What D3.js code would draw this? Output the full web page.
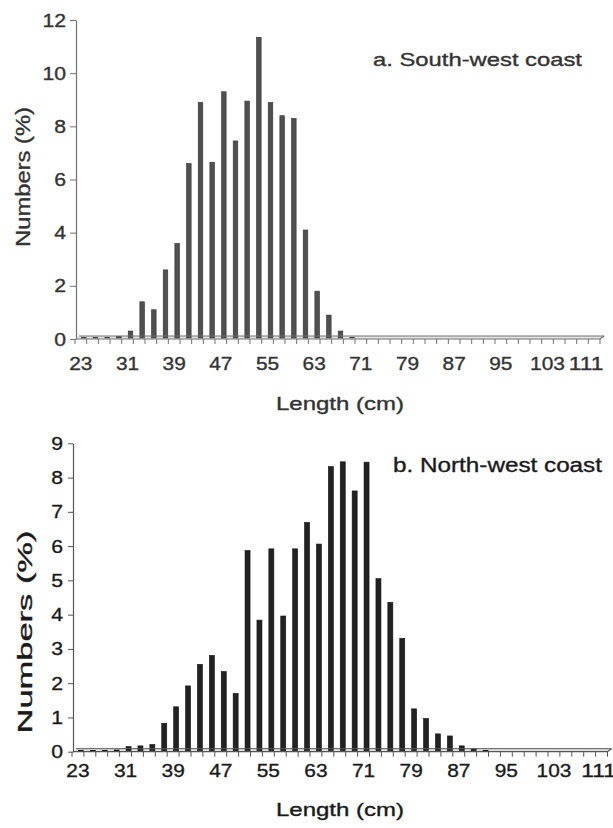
<!DOCTYPE html>
<html>
<head>
<meta charset="utf-8">
<script src="https://cdn.jsdelivr.net/npm/d3@7"></script>
<style>
    body { margin: 0; background: #fff; }
    svg { display: block; }
    text { font-family: "Liberation Sans", Arial, sans-serif; stroke-width: 0.35px; }
</style>
</head>
<body>
<svg id="chart" width="613" height="828"></svg>
<script>
// Length classes (cm)
var lengths = [23, 25, 27, 29, 31, 33, 35, 37, 39, 41, 43, 45, 47, 49, 51, 53, 55, 57, 59, 61, 63, 65, 67,
    69, 71, 73, 75, 77, 79, 81, 83, 85, 87, 89, 91, 93, 95, 97, 99, 101, 103, 105, 107, 109, 111];
// Numbers (%) per length class
var southWest = [0.05, 0.05, 0.05, 0.1, 0.3, 1.4, 1.1, 2.6, 3.6, 6.6, 8.9, 6.65, 9.3, 7.45, 8.95, 11.35, 8.9,
    8.4, 8.3, 4.1, 1.8, 0.9, 0.3, 0.05, 0, 0, 0, 0, 0, 0, 0, 0, 0, 0, 0, 0, 0, 0, 0, 0, 0, 0, 0, 0, 0];
var northWest = [0.04, 0.04, 0.04, 0.05, 0.15, 0.17, 0.21, 0.83, 1.31, 1.92, 2.55, 2.81, 2.34, 1.7, 5.87, 3.84,
    5.92, 3.96, 5.92, 6.69, 6.06, 8.32, 8.46, 7.61, 8.45, 5.05, 4.36, 3.31, 1.25, 0.97, 0.52, 0.46, 0.17, 0.08,
    0.04, 0, 0, 0, 0, 0, 0, 0, 0, 0, 0];
var xTickLabels = [23, 31, 39, 47, 55, 63, 71, 79, 87, 95, 103, 111];
var yTicksA = [0, 2, 4, 6, 8, 10, 12];
var yTicksB = [0, 1, 2, 3, 4, 5, 6, 7, 8, 9];

var svg = d3.select("#chart");

function drawPanel(opt) {
    var depth = 3;
    var x = d3.scaleBand()
        .domain(lengths)
        .range([opt.left, opt.right])
        .padding(0);
    var y = d3.scaleLinear()
        .domain([0, opt.yMax])
        .range([opt.bottom, opt.top]);
    var g = svg.append("g");

    // Floor of the 3-D plot
    g.append("path")
        .attr("d", "M" + opt.axisX + "," + opt.bottom + "L" + opt.right + "," + opt.bottom +
            "L" + (opt.right + 4) + "," + (opt.bottom - depth) + "L" + (opt.axisX + depth) + "," + (opt.bottom - depth) + "Z")
        .attr("fill", "#e4e4e4");

    // Bars
    g.selectAll(".bar")
        .data(opt.values)
        .enter().append("rect")
        .attr("class", "bar")
        .attr("x", function (d, i) {
            return x(lengths[i]) + x.bandwidth() / 2 + depth - opt.barW / 2;
        })
        .attr("y", function (d) { return y(d); })
        .attr("width", opt.barW)
        .attr("height", function (d) { return Math.max(0, y(0) - 1 - y(d)); })
        .attr("fill", opt.barFill)
        .attr("stroke", opt.barStroke)
        .attr("stroke-width", 0.6);

    // Back and front edges of the floor
    g.append("line")
        .attr("x1", opt.axisX + depth).attr("x2", opt.right + 4)
        .attr("y1", opt.bottom - depth).attr("y2", opt.bottom - depth)
        .attr("stroke", opt.axisColor).attr("stroke-width", 1);
    g.append("path")
        .attr("d", "M" + opt.axisX + "," + opt.bottom + "L" + opt.right + "," + opt.bottom + "L" + (opt.right + 4) + "," + (opt.bottom - depth))
        .attr("fill", "none")
        .attr("stroke", opt.axisColor).attr("stroke-width", 1.2);

    // Category ticks on the boundaries
    g.selectAll(".xtick")
        .data(lengths.concat(["end"]))
        .enter().append("line")
        .attr("x1", function (d, i) { return opt.left + i * x.step(); })
        .attr("x2", function (d, i) { return opt.left + i * x.step(); })
        .attr("y1", opt.bottom)
        .attr("y2", opt.bottom + 5)
        .attr("stroke", opt.axisColor);

    // X tick labels
    var xAxis = g.append("g")
        .attr("transform", "translate(0," + opt.bottom + ")")
        .call(d3.axisBottom(x).tickValues(xTickLabels).tickSize(0));
    xAxis.select(".domain").remove();
    xAxis.selectAll("text")
        .attr("x", function (d) { return d === 111 ? opt.lastShift : 0; })
        .attr("y", opt.xLabelY - opt.bottom)
        .attr("dy", null)
        .attr("fill", opt.textColor)
        .attr("stroke", opt.textColor)
        .attr("font-size", "19px")
        .attr("font-family", "Liberation Sans, Arial, sans-serif")
        .attr("textLength", function (d) { return String(d).length * 11.6; })
        .attr("lengthAdjust", "spacingAndGlyphs");

    // Y axis
    var yAxis = g.append("g")
        .attr("transform", "translate(" + opt.axisX + ",0)")
        .call(d3.axisLeft(y).tickValues(opt.yTicks).tickSize(opt.yTick).tickSizeOuter(0).tickPadding(opt.yPad));
    yAxis.select(".domain").attr("stroke", opt.axisColor).attr("stroke-width", 1.2);
    yAxis.selectAll(".tick line").attr("stroke", opt.axisColor);
    yAxis.selectAll("text")
        .attr("fill", opt.textColor)
        .attr("stroke", opt.textColor)
        .attr("font-size", "19px")
        .attr("font-family", "Liberation Sans, Arial, sans-serif")
        .attr("textLength", function (d) { return String(d).length * 11.8; })
        .attr("lengthAdjust", "spacingAndGlyphs");

    // Axis titles
    g.append("text")
        .attr("x", opt.xTitleX)
        .attr("y", opt.xTitleY)
        .attr("fill", opt.textColor)
        .attr("stroke", opt.textColor)
        .attr("font-size", "18.5px")
        .attr("textLength", 128)
        .attr("lengthAdjust", "spacingAndGlyphs")
        .text("Length (cm)");
    g.append("text")
        .attr("transform", "translate(" + opt.yTitleX + "," + opt.yTitleY + ") rotate(-90)")
        .attr("text-anchor", "middle")
        .attr("fill", opt.textColor)
        .attr("stroke", opt.textColor)
        .attr("font-size", opt.yTitleSize)
        .attr("textLength", opt.yTitleLen)
        .attr("lengthAdjust", "spacingAndGlyphs")
        .text("Numbers (%)");

    // Panel title
    g.append("text")
        .attr("x", opt.titleX)
        .attr("y", opt.titleY)
        .attr("fill", opt.textColor)
        .attr("stroke", opt.textColor)
        .attr("font-size", opt.titleSize)
        .attr("textLength", 209)
        .attr("lengthAdjust", "spacingAndGlyphs")
        .text(opt.title);
}

drawPanel({
    values: southWest, title: "a. South-west coast",
    left: 75, right: 600, axisX: 76, top: 20, bottom: 339, yMax: 12, yTicks: yTicksA,
    yTick: 6, yPad: 4, xLabelY: 370, lastShift: -8,
    barW: 4.6, barFill: "#505050", barStroke: "#333",
    axisColor: "#707070", textColor: "#333",
    xTitleX: 276, xTitleY: 410,
    yTitleX: 30, yTitleY: 177, yTitleSize: "20px", yTitleLen: 140,
    titleX: 373, titleY: 66, titleSize: "18.5px"
});

drawPanel({
    values: northWest, title: "b. North-west coast",
    left: 72, right: 607.5, axisX: 73, top: 443.3, bottom: 751.7, yMax: 9, yTicks: yTicksB,
    yTick: 5, yPad: 5, xLabelY: 777, lastShift: -3,
    barW: 5, barFill: "#222", barStroke: "#111",
    axisColor: "#555", textColor: "#1a1a1a",
    xTitleX: 276, xTitleY: 816,
    yTitleX: 32, yTitleY: 632, yTitleSize: "20px", yTitleLen: 203,
    titleX: 393, titleY: 472, titleSize: "20px"
});
</script>
</body>
</html>
